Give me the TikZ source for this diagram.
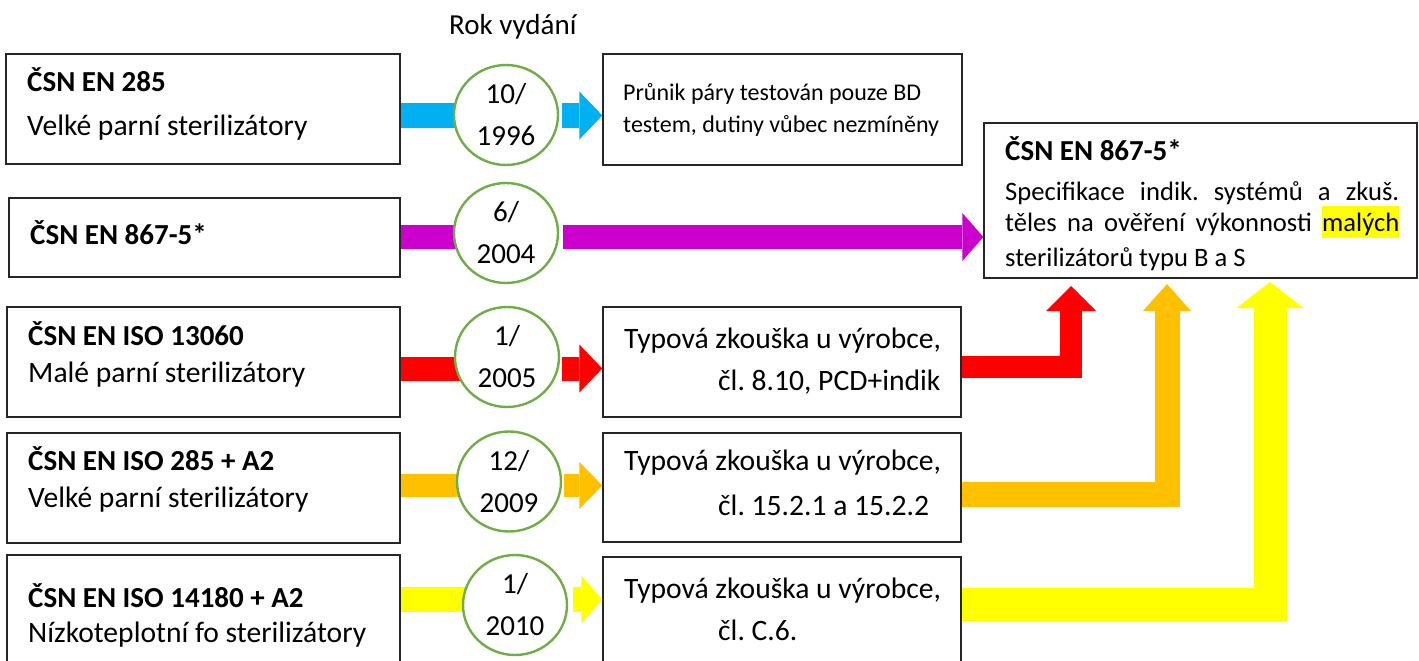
\documentclass[tikz,border=0pt]{standalone}
\usepackage{fontspec}
\setmainfont{Carlito}
\usetikzlibrary{arrows.meta,shapes.geometric,calc,backgrounds}
\definecolor{cblue}{HTML}{00B0F0}
\definecolor{cpurple}{HTML}{CC00CC}
\definecolor{cred}{HTML}{FF0000}
\definecolor{corange}{HTML}{FFC000}
\definecolor{cyellow}{HTML}{FFFF00}
\definecolor{cgreen}{HTML}{70AD47}
\newcommand\fsz[2]{\fontsize{#1pt}{#2pt}\selectfont}
\newcommand\hlt[1]{{\setlength\fboxsep{0pt}\colorbox{cyellow}{\rule[-7pt]{0pt}{32pt}#1}}}
\frenchspacing
\begin{document}
\frenchspacing
\begin{tikzpicture}[x=1pt,y=-1pt,
  box/.style={draw=black!85,line width=1.3pt,inner sep=0pt,fill=white},
  year/.style={ellipse,draw=cgreen,line width=2.4pt,fill=white,minimum width=104pt,minimum height=100pt,inner sep=0pt,align=center,font=\fsz{29}{42}},
  txt/.style={anchor=base west,inner sep=0pt,font=\fsz{29.6}{35}},
  rok/.style={anchor=base west,inner sep=0pt,font=\fsz{29}{35}},
  ttl/.style={anchor=base west,inner sep=0pt,font=\fsz{29}{35}\bfseries},
  small/.style={anchor=base west,inner sep=0pt,font=\fsz{24}{30}},
  body/.style={anchor=base west,inner sep=0pt,font=\fsz{26.6}{33}},
  shaft/.style={line width=#1,line cap=butt,line join=miter}
]
\useasboundingbox (0,0) rectangle (1419,661);
\clip (0,0) rectangle (1419,661);

% left boxes
\node[box,minimum width=394pt,minimum height=110pt] (b1) at (203,109) {};
\node[box,minimum width=391pt,minimum height=79pt] (b2) at (204.5,237.5) {};
\node[box,minimum width=393pt,minimum height=110pt] (b3) at (203.5,362) {};
\node[box,minimum width=393pt,minimum height=110pt] (b4) at (203.5,488) {};
\node[box,minimum width=393pt,minimum height=125pt] (b5) at (203.5,617.5) {};

% right boxes
\node[box,minimum width=359pt,minimum height=111pt] (r1) at (782.5,109.5) {};
\node[box,minimum width=433pt,minimum height=155pt] (r2) at (1200.5,200.5) {};
\node[box,minimum width=358pt,minimum height=110pt] (r3) at (782,362) {};
\node[box,minimum width=358pt,minimum height=109pt] (r4) at (782,487.5) {};
\node[box,minimum width=358pt,minimum height=123pt] (r5) at (782,618.5) {};

% year circles
\node[year] (c1) at (506,115) {10/\\1996};
\node[year] (c2) at (506,233) {6/\\2004};
\node[year] (c3) at (507,357) {1/\\2005};
\node[year] (c4) at (509,481.5) {12/\\2009};
\node[year] (c5) at (515,605) {1/\\2010};

% texts
\node[rok] (rok) at (449,35) {Rok vydání};
\node[ttl] (b1t) at (27,92) {ČSN EN 285};
\node[txt] (b1s) at (27,135) {Velké parní sterilizátory};
\node[ttl] (b2t) at (30,244) {ČSN EN 867-5*};
\node[ttl] (b3t) at (28,345) {ČSN EN ISO 13060};
\node[txt] (b3s) at (28,382) {Malé parní sterilizátory};
\node[ttl] (b4t) at (28,470) {ČSN EN ISO 285 + A2};
\node[txt] (b4s) at (28,507) {Velké parní sterilizátory};
\node[ttl] (b5t) at (28,607) {ČSN EN ISO 14180 + A2};
\node[txt] (b5s) at (28,642) {Nízkoteplotní fo sterilizátory};

\node[small] (r1a) at (623,100) {Průnik páry testován pouze BD};
\node[small] (r1b) at (623,132) {testem, dutiny vůbec nezmíněny};

\node[ttl] (r2t) at (1005,160) {ČSN EN 867-5*};
\node[body] (r2a) at (1005,200) {\makebox[394pt][s]{Specifikace indik. systémů a zkuš.}};
\node[body] (r2b) at (1005,231) {\makebox[394pt][s]{těles na ověření výkonnosti \hlt{malých}}};
\node[body] (r2c) at (1005,266) {sterilizátorů typu B a S};

\node[txt] (r3a) at (624,348) {Typová zkouška u výrobce,};
\node[txt] (r3b) at (718,390) {čl. 8.10, PCD+indik};
\node[txt] (r4a) at (624,470) {Typová zkouška u výrobce,};
\node[txt] (r4b) at (718,515) {čl. 15.2.1 a 15.2.2};
\node[txt] (r5a) at (624,598) {Typová zkouška u výrobce,};
\node[txt] (r5b) at (718,640) {čl. C.6.};

% row levels
\coordinate (y1) at (0,115.5);
\coordinate (y2) at (0,237);
\coordinate (y3) at (0,368.5);
\coordinate (y4) at (0,485.5);
\coordinate (y5) at (0,599.5);
\coordinate (q3) at (0,367);
\coordinate (q4) at (0,494.5);
\coordinate (q5) at (0,604.5);
\coordinate (t3) at (1071,286);
\coordinate (t4) at (1167,284);
\coordinate (t5) at (1270,282);

\begin{pgfonlayer}{background}
\fill[white] (0,0) rectangle (1419,661);
\draw[cblue,shaft=25pt] (b1.east |- y1) -- (c1.center |- y1);
\draw[cpurple,shaft=24pt] (b2.east |- y2) -- (c2.center |- y2);
\draw[cred,shaft=24pt] (b3.east |- y3) -- (c3.center |- y3);
\draw[corange,shaft=23pt] (b4.east |- y4) -- (c4.center |- y4);
\draw[cyellow,shaft=25pt] (b5.east |- y5) -- (c5.center |- y5);
\end{pgfonlayer}

\draw[cblue,shaft=25pt,-{Triangle[length=23pt,width=48pt,line width=0pt]}] ($(c1.east |- y1)+(3,0)$) -- (r1.west |- y1);
\draw[cpurple,shaft=24pt,-{Triangle[length=21pt,width=48pt,line width=0pt]}] ($(c2.east |- y2)+(4,0)$) -- (r2.west |- y2);
\draw[cred,shaft=24pt,-{Triangle[length=23pt,width=48pt,line width=0pt]}] ($(c3.east |- y3)+(2,0)$) -- (r3.west |- y3);
\draw[corange,shaft=23pt,-{Triangle[length=23pt,width=47pt,line width=0pt]}] ($(c4.east |- y4)+(2,0)$) -- (r4.west |- y4);
\draw[cyellow,shaft=25pt,-{Triangle[length=21pt,width=48pt,line width=0pt]}] ($(c5.east |- y5)+(5,0)$) -- (r5.west |- y5);

\draw[cred,shaft=22pt,-{Triangle[length=25pt,width=50pt,line width=0pt]}] (r3.east |- q3) -| (t3);
\draw[corange,shaft=25pt,-{Triangle[length=27pt,width=48pt,line width=0pt]}] (r4.east |- q4) -| (t4);
\draw[cyellow,shaft=33pt,-{Triangle[length=26pt,width=67pt,line width=0pt]}] (r5.east |- q5) -| (t5);
\end{tikzpicture}
\end{document}
